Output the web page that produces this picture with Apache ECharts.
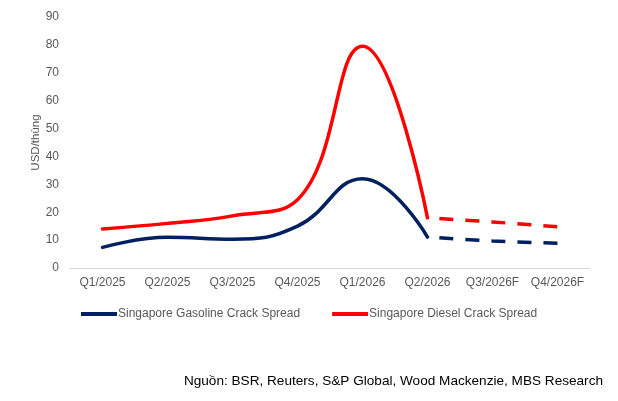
<!DOCTYPE html>
<html>
<head>
<meta charset="utf-8">
<script src="https://cdn.jsdelivr.net/npm/echarts@6/dist/echarts.min.js"></script>
<style>
  html, body { margin: 0; padding: 0; background: #fff; }
  #chart { width: 618px; height: 401px; }
</style>
</head>
<body>
<div id="chart"></div>
<script>
const categories = ['Q1/2025', 'Q2/2025', 'Q3/2025', 'Q4/2025', 'Q1/2026', 'Q2/2026', 'Q3/2026F', 'Q4/2026F'];
// actual values (solid), up to Q2/2026
const gasolineActual = [7.4, 11, 10.3, 15, 32, 11.1, null, null];
const dieselActual = [14, 16, 18.7, 24.5, 79.5, 18, null, null];
// forecast values (dashed), from Q2/2026
const gasolineForecast = [null, null, null, null, null, 11.1, 9.7, 8.9];
const dieselForecast = [null, null, null, null, null, 18, 16.5, 14.8];

const navy = '#002060';
const red = '#ff0000';
const grey = '#595959';
const font = 'Liberation Sans, Arial, sans-serif';

const chart = echarts.init(document.getElementById('chart'));

chart.setOption({
    backgroundColor: '#fff',
    animation: false,
    textStyle: { fontFamily: font },
    grid: { left: 70, right: 28, top: 17, bottom: 133 },
    legend: {
        left: 76,
        top: 303,
        itemWidth: 36,
        itemHeight: 4,
        itemGap: 32,
        data: [
            { name: 'Singapore Gasoline Crack Spread', icon: 'rect' },
            { name: 'Singapore Diesel Crack Spread', icon: 'rect' }
        ],
        textStyle: { color: grey, fontSize: 12, fontFamily: font, padding: [0, 0, 0, -4] }
    },
    graphic: [{
        type: 'text',
        right: 15,
        top: 374,
        style: {
            text: 'Nguồn: BSR, Reuters, S&P Global, Wood Mackenzie, MBS Research',
            fill: '#000',
            font: '13.6px ' + font
        }
    }],
    xAxis: {
        type: 'category',
        data: categories,
        boundaryGap: true,
        axisLine: { lineStyle: { color: '#d9d9d9', width: 1 } },
        axisTick: { show: false },
        axisLabel: { color: grey, fontSize: 12, margin: 9, interval: 0 }
    },
    yAxis: {
        type: 'value',
        min: 0,
        max: 90,
        interval: 10,
        name: 'USD/thùng',
        nameLocation: 'middle',
        nameGap: 28,
        nameMoveOverlap: false,
        nameTextStyle: { color: grey, fontSize: 11.5 },
        axisLine: { show: false },
        axisTick: { show: false },
        splitLine: { show: false },
        axisLabel: { color: grey, fontSize: 12, margin: 11 }
    },
    series: [
        {
            name: 'Singapore Gasoline Crack Spread',
            type: 'line',
            data: gasolineActual,
            smooth: 0.45,
            showSymbol: false,
            color: navy,
            lineStyle: { color: navy, width: 3.5, cap: 'round' }
        },
        {
            name: 'Singapore Diesel Crack Spread',
            type: 'line',
            data: dieselActual,
            smooth: 0.45,
            showSymbol: false,
            color: red,
            lineStyle: { color: red, width: 3.5, cap: 'round' }
        },
        {
            name: 'Gasoline forecast',
            type: 'line',
            data: gasolineForecast,
            smooth: 0.45,
            showSymbol: false,
            lineStyle: { color: navy, width: 3.5, type: [14, 12], dashOffset: 14 }
        },
        {
            name: 'Diesel forecast',
            type: 'line',
            data: dieselForecast,
            smooth: 0.45,
            showSymbol: false,
            lineStyle: { color: red, width: 3.5, type: [14, 12], dashOffset: 14 }
        }
    ]
});
</script>
</body>
</html>
